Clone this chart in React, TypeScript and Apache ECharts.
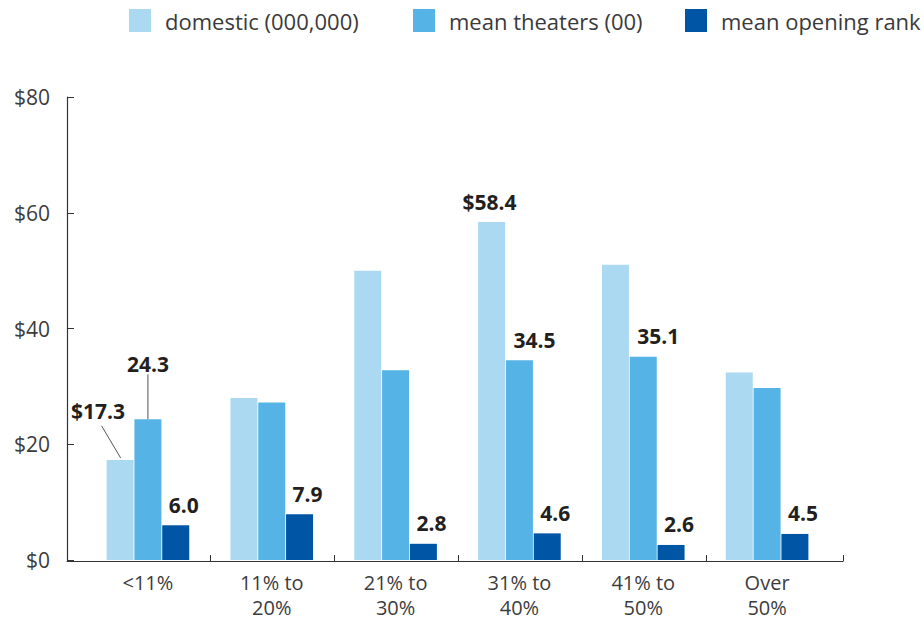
import React, { useEffect, useRef } from "react";
import * as echarts from "echarts";

const categories = ["<11%", "11% to\n20%", "21% to\n30%", "31% to\n40%", "41% to\n50%", "Over\n50%"];
const domestic = [17.3, 28.0, 50.0, 58.4, 51.0, 32.4];
const theaters = [24.3, 27.2, 32.8, 34.5, 35.1, 29.7];
const rank = [6.0, 7.9, 2.8, 4.6, 2.6, 4.5];
const showDomestic = [true, false, false, true, false, false];
const showTheaters = [true, false, false, true, true, false];
const showRank = [true, true, true, true, true, true];
const seriesNames = ["domestic (000,000)", "mean theaters (00)", "mean opening rank"];
const legendLefts = [129, 413, 685];
const colors = ["#abd9f2", "#56b3e5", "#0155a5"];
const yTicks = { min: 0, max: 80, interval: 20 };
// extended x axis line (in category units)
const axisStart = -0.153;
const axisEnd = 6.105;
const tickPositions = [1, 2, 3, 4, 5, axisEnd];
// leader line for the first domestic label: [categoryIndex, value]
const domesticLeader = [[0, domestic[0]]];

const FONT = "Open Sans";
const BAR_W = 27;
const BAR_GAP = 0.03;

export default function App() {
  const ref = useRef<HTMLDivElement>(null);
  useEffect(() => {
    if (!ref.current) return;
    const chart = echarts.init(ref.current, undefined, { renderer: "svg" });
    const labelBase = {
      show: true,
      position: "top",
      distance: 10,
      fontFamily: FONT,
      fontSize: 21,
      fontWeight: "bold",
      color: "#231f20",
    };
    const lineStyle = { color: "#555", width: 1 };
    const mk = (vals: number[], shows: boolean[], prefix: string, lineIdx: number[]) =>
      vals.map((v, i) => ({
        value: v,
        label: { show: shows[i], formatter: prefix + v.toFixed(1) },
        labelLine: { show: lineIdx.includes(i), lineStyle },
      }));
    const option = {
      animation: false,
      textStyle: { fontFamily: FONT },
      legend: seriesNames.map((n, i) => ({
        left: legendLefts[i],
        top: 9,
        padding: 0,
        itemWidth: 22,
        itemHeight: 23,
        icon: "rect",
        textStyle: { fontFamily: FONT, fontSize: 22, color: "#3a3a3a", padding: [0, 0, 0, 9] },
        data: [n],
      })),
      grid: [
        { left: 86, right: 95, top: 97, bottom: 59 },
        { left: 67, right: 81, top: 97, bottom: 59 },
      ],
      xAxis: [
        {
          type: "category",
          gridIndex: 0,
          data: categories,
          axisLine: { show: false },
          axisTick: { show: false },
          axisLabel: { interval: 0, fontFamily: FONT, fontSize: 20, lineHeight: 25, color: "#3c3c3c", margin: 10 },
        },
        {
          type: "value",
          gridIndex: 1,
          min: axisStart,
          max: axisEnd,
          axisLine: { show: true, onZero: false, lineStyle: { color: "#333", width: 1.2 } },
          axisTick: { show: true, inside: true, length: 6, customValues: tickPositions, lineStyle: { color: "#333" } },
          axisLabel: { show: false },
          splitLine: { show: false },
        },
      ],
      yAxis: [
        {
          type: "value",
          gridIndex: 0,
          min: yTicks.min,
          max: yTicks.max,
          interval: yTicks.interval,
          offset: 19,
          axisLine: { show: true, lineStyle: { color: "#333", width: 1.2 } },
          axisTick: { show: true, inside: true, length: 7, lineStyle: { color: "#333" } },
          splitLine: { show: false },
          axisLabel: { formatter: "${value}", fontFamily: FONT, fontSize: 21, color: "#3c3c3c", margin: 17 },
        },
        { type: "value", gridIndex: 1, min: 0, max: 1, show: false },
      ],
      series: [
        {
          name: seriesNames[0],
          type: "bar",
          barWidth: BAR_W,
          barGap: BAR_GAP * 100 + "%",
          barCategoryGap: "34%",
          itemStyle: { color: colors[0] },
          label: { ...labelBase },
          labelLayout: (p: any) => (p.dataIndex === 0 ? { dx: -22, dy: -28 } : { dx: -2 }),
          data: mk(domestic, showDomestic, "$", []),
        },
        {
          name: seriesNames[1],
          type: "bar",
          barWidth: BAR_W,
          barGap: BAR_GAP * 100 + "%",
          itemStyle: { color: colors[1] },
          label: { ...labelBase },
          labelLayout: (p: any) => (p.dataIndex === 0 ? { dy: -35 } : { dx: 15 }),
          data: mk(theaters, showTheaters, "", [0]),
        },
        {
          name: seriesNames[2],
          type: "bar",
          barWidth: BAR_W,
          barGap: BAR_GAP * 100 + "%",
          itemStyle: { color: colors[2] },
          label: { ...labelBase, offset: [8, 0] },
          data: mk(rank, showRank, "", []),
        },
        {
          type: "custom",
          xAxisIndex: 0,
          yAxisIndex: 0,
          silent: true,
          z: 5,
          data: domesticLeader,
          renderItem: (_params: any, api: any) => {
            const pt = api.coord([api.value(0), api.value(1)]);
            const left = pt[0] - 1.5 * BAR_W - BAR_GAP * BAR_W;
            const top = pt[1];
            return {
              type: "line",
              shape: { x1: left - 5, y1: top - 34, x2: left + 14, y2: top - 2 },
              style: { stroke: "#555", lineWidth: 1 },
            };
          },
        },
      ],
    };
    chart.setOption(option as any);
    return () => chart.dispose();
  }, []);
  return (
    <div
      ref={ref}
      style={{ position: "fixed", left: 0, top: 0, width: 924, height: 620, background: "#fff" }}
    />
  );
}
